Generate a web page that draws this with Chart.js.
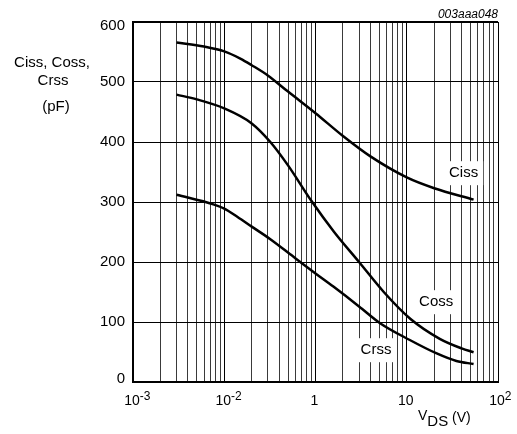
<!DOCTYPE html>
<html>
<head>
<meta charset="utf-8">
<script src="https://cdn.jsdelivr.net/npm/chart.js@4.4.0/dist/chart.umd.min.js"></script>
<style>
  html, body { margin: 0; padding: 0; background: #fff; }
  #wrap { width: 517px; height: 434px; }
</style>
</head>
<body>
<div id="wrap"><canvas id="chart" width="517" height="434"></canvas></div>
<script>
// Data (VDS in V, capacitance in pF)
const vdsCiss = [0.03, 0.06, 0.1, 0.15, 0.2, 0.3, 0.5, 1, 2, 4, 10, 20, 54];
const ciss    = [566, 559, 551, 539, 528, 511, 484, 448, 410, 376, 341, 323, 304];
const vdsCoss = [0.03, 0.05, 0.1, 0.2, 0.32, 0.5, 0.9, 1.6, 3, 5.6, 11, 23, 40, 54];
const coss    = [479, 471, 456, 431, 400, 361, 302, 250, 200, 150, 105, 72, 56, 49.5];
const vdsCrss = [0.03, 0.076, 0.1, 0.14, 0.2, 0.32, 0.57, 1, 1.57, 3, 5.1, 10.8, 21, 35, 54];
const crss    = [312, 296, 289, 275, 259, 238, 209, 181, 159, 126, 98, 70, 48, 35, 30];

const yTicks = [0, 100, 200, 300, 400, 500, 600];
const xTickValues = [0.01, 0.1, 1, 10, 100];
const xTickLabels = [['10', '-3'], ['10', '-2'], ['1', ''], ['10', ''], ['10', '2']];

const FONT = '"Liberation Sans", Arial, Helvetica, sans-serif';

// grid lines at 1..9 x each decade
const gridX = [];
for (let e = -2; e < 2; e++) for (let m = 1; m < 10; m++) gridX.push(+(m * Math.pow(10, e)).toPrecision(3));
gridX.push(100);

function pts(xs, ys) { return xs.map((x, i) => ({x: x, y: ys[i]})); }

const curveLabels = [
  {text: 'Ciss', x: 42, y: 348},
  {text: 'Coss', x: 21, y: 133},
  {text: 'Crss', x: 4.6, y: 53}
];

const textPlugin = {
  id: 'texts',
  afterDraw(chart) {
    const ctx = chart.ctx, xs = chart.scales.x, ys = chart.scales.y;
    ctx.save();
    ctx.fillStyle = '#000';

    // y tick labels
    ctx.font = '15px ' + FONT;
    ctx.textAlign = 'right';
    ctx.textBaseline = 'middle';
    yTicks.forEach(v => {
      let py = ys.getPixelForValue(v);
      py = Math.min(Math.max(py, ys.top + 4), ys.bottom - 3);
      ctx.fillText(String(v), xs.left - 8, py);
    });

    // x tick labels with superscripts
    ctx.textAlign = 'left';
    ctx.textBaseline = 'alphabetic';
    xTickValues.forEach((v, i) => {
      const base = xTickLabels[i][0], sup = xTickLabels[i][1];
      const px = xs.getPixelForValue(v);
      ctx.font = '14px ' + FONT;
      const w = ctx.measureText(base).width;
      const x0 = px - w / 2 - 1;
      ctx.fillText(base, x0, 405);
      if (sup) {
        ctx.font = '12px ' + FONT;
        ctx.fillText(sup, x0 + w, 400);
      }
    });

    // x axis title: VDS (V)
    ctx.font = '14px ' + FONT;
    let tx = 418;
    ctx.fillText('V', tx, 420);
    tx += ctx.measureText('V').width;
    ctx.font = '15px ' + FONT;
    ctx.fillText('DS', tx, 426);
    tx += ctx.measureText('DS').width;
    ctx.font = '14px ' + FONT;
    ctx.fillText(' (V)', tx, 422);

    // y axis title
    ctx.font = '15px ' + FONT;
    ctx.textAlign = 'center';
    ctx.textBaseline = 'middle';
    ctx.fillText('Ciss, Coss,', 52, 63);
    ctx.fillText('Crss', 53, 81);
    ctx.fillText('(pF)', 56, 107);

    // figure code
    ctx.font = 'italic 12px ' + FONT;
    ctx.textAlign = 'right';
    ctx.textBaseline = 'alphabetic';
    ctx.fillText('003aaa048', xs.right, 18);

    // curve labels on white boxes
    ctx.font = '15px ' + FONT;
    ctx.textAlign = 'center';
    ctx.textBaseline = 'middle';
    curveLabels.forEach(l => {
      const px = xs.getPixelForValue(l.x), py = ys.getPixelForValue(l.y);
      const w = ctx.measureText(l.text).width + 10;
      ctx.fillStyle = '#fff';
      ctx.fillRect(px - w / 2, py - 12, w, 24);
      ctx.fillStyle = '#000';
      ctx.fillText(l.text, px, py);
    });
    ctx.restore();
  }
};

function line(label, data) {
  return {
    label: label, data: data, borderColor: '#000', borderWidth: 2.5,
    pointRadius: 0, fill: false, cubicInterpolationMode: 'monotone'
  };
}

new Chart(document.getElementById('chart'), {
  type: 'line',
  data: {
    datasets: [
      line('Ciss', pts(vdsCiss, ciss)),
      line('Coss', pts(vdsCoss, coss)),
      line('Crss', pts(vdsCrss, crss))
    ]
  },
  options: {
    responsive: false,
    animation: false,
    layout: { padding: { left: 133, top: 22, right: 19, bottom: 52 } },
    plugins: { legend: { display: false }, tooltip: { enabled: false } },
    scales: {
      x: {
        type: 'logarithmic', min: 0.01, max: 100,
        afterBuildTicks: s => { s.ticks = gridX.map(v => ({value: v})); },
        ticks: { display: false },
        grid: {
          drawTicks: false,
          color: c => {
            const v = c.tick ? c.tick.value : 1;
            const m = Math.round(v / Math.pow(10, Math.floor(Math.log10(v) + 1e-9)));
            return m === 1 ? '#000' : '#3a3a3a';
          },
          lineWidth: 1
        },
        border: { display: true, width: 2, color: '#000' }
      },
      y: {
        min: 0, max: 600,
        afterBuildTicks: s => { s.ticks = yTicks.map(v => ({value: v})); },
        ticks: { display: false },
        grid: {
          drawTicks: false, color: '#000',
          lineWidth: c => (c.tick && c.tick.value === 600 ? 2 : 1)
        },
        border: { display: true, width: 2, color: '#000' }
      }
    }
  },
  plugins: [textPlugin]
});
</script>
</body>
</html>
